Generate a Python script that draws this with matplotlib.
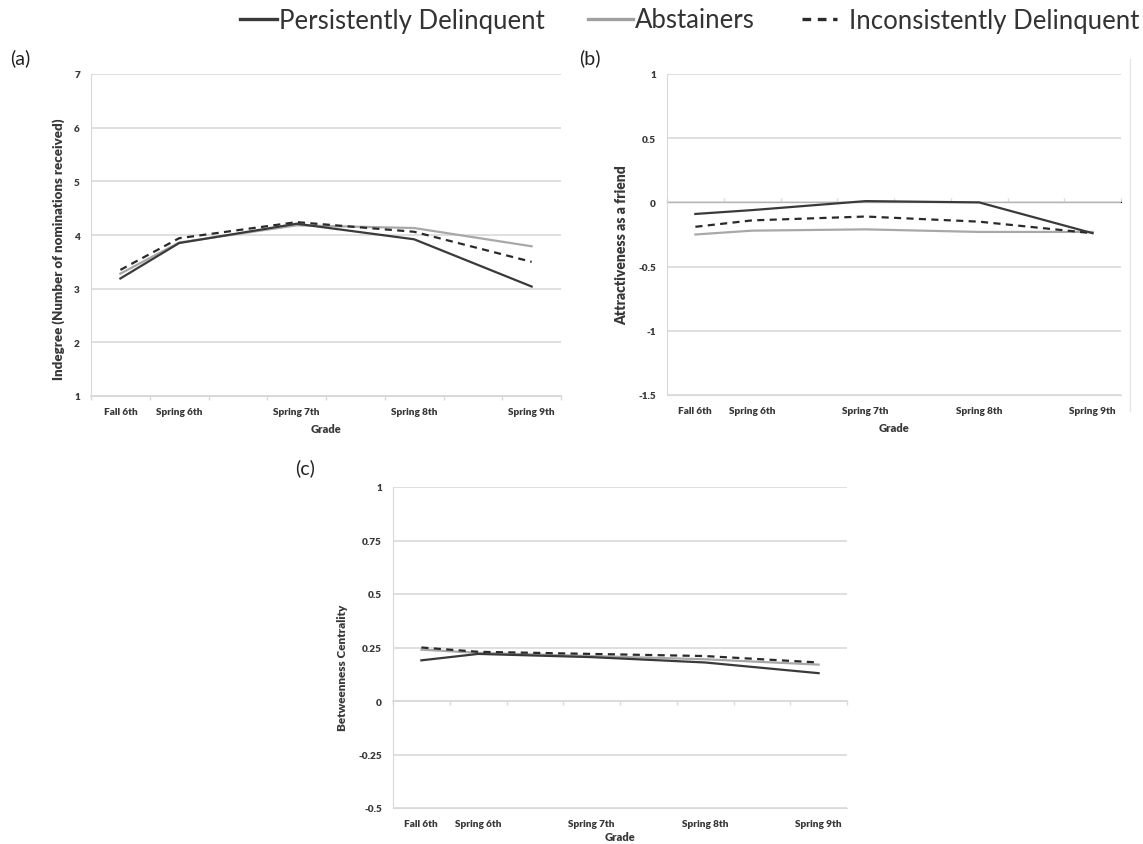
import numpy as np
import matplotlib
matplotlib.use('Agg')
import matplotlib.pyplot as plt
from matplotlib.lines import Line2D

plt.rcParams['font.family'] = ['Lato', 'DejaVu Sans']

# category axis with blank slots between the spring waves
cat_labels = ['Fall 6th', 'Spring 6th', '', 'Spring 7th', '', 'Spring 8th', '', 'Spring 9th']
wave_idx = [0, 1, 3, 5, 7]

# (a) indegree
indeg_persist = [3.19, 3.85, 4.21, 3.92, 3.04]
indeg_abst = [3.28, 3.86, 4.18, 4.13, 3.79]
indeg_incons = [3.35, 3.94, 4.24, 4.06, 3.50]

# (b) attractiveness as a friend
attr_persist = [-0.09, -0.06, 0.01, 0.00, -0.24]
attr_abst = [-0.25, -0.22, -0.21, -0.23, -0.23]
attr_incons = [-0.19, -0.14, -0.11, -0.15, -0.24]

# (c) betweenness centrality
betw_persist = [0.19, 0.22, 0.205, 0.18, 0.13]
betw_abst = [0.24, 0.225, 0.21, 0.195, 0.17]
betw_incons = [0.25, 0.23, 0.22, 0.21, 0.18]

series_names = ['Persistently Delinquent', 'Abstainers', 'Inconsistently Delinquent']

C_PERSIST = '#3a3a3a'
C_ABST = '#a8a8a8'
C_INCONS = '#2a2a2a'
GRID = '#d9d9d9'
TXT = '#383838'

W, H = 1143, 845


def px(x, y):
    # pixel position (from top left) -> figure fraction
    return x / W, 1 - y / H


def drawPanel(ax, persist, abst, incons, ylim, ystep, ylabel, ylab_pos, ysize, xpad=5):
    x = np.array(wave_idx) + 0.5
    ax.plot(x, abst, color=C_ABST, lw=1.6)
    ax.plot(x, incons, color=C_INCONS, lw=1.6, dashes=(3.2, 2.4))
    ax.plot(x, persist, color=C_PERSIST, lw=1.6)

    ax.set_xlim(0, len(cat_labels))
    ax.set_ylim(*ylim)
    yt = np.arange(ylim[0], ylim[1] + ystep / 2, ystep)
    ax.set_yticks(yt)
    ax.set_yticklabels(['{:g}'.format(round(v, 2)) for v in yt])
    ax.yaxis.grid(True, color=GRID, lw=1.2)
    ax.set_axisbelow(True)

    ax.set_xticks(np.arange(len(cat_labels)) + 0.5)
    ax.set_xticklabels(cat_labels)
    ax.tick_params(axis='x', length=0, pad=8, labelsize=7.2, labelcolor=TXT)
    ax.tick_params(axis='y', length=0, pad=8, labelsize=7.2, labelcolor=TXT)
    for lab in ax.get_xticklabels() + ax.get_yticklabels():
        lab.set_fontweight('heavy')

    for s in ['top', 'right']:
        ax.spines[s].set_visible(False)
    ax.spines['left'].set_color(GRID)
    ax.spines['bottom'].set_color(GRID)

    # horizontal axis line (with tick marks) crosses at y = 0 or at the bottom
    cross = max(ylim[0], 0)
    frac = (cross - ylim[0]) / (ylim[1] - ylim[0])
    sec = ax.secondary_xaxis(frac)
    sec.set_xticks(np.arange(len(cat_labels) + 1))
    sec.set_xticklabels([])
    sec.tick_params(length=3, color=GRID, width=1)
    sec.spines['bottom'].set_color(GRID)
    sec.spines['bottom'].set_linewidth(1.2)

    ax.set_xlabel('Grade', fontsize=8, fontweight='heavy', color=TXT, labelpad=xpad)
    ax.set_ylabel(ylabel, fontsize=ysize, fontweight='heavy', color=TXT)
    ax.yaxis.set_label_coords(*ylab_pos)


def addAxes(left, top, right, bottom):
    x0, y0 = px(left, bottom)
    x1, y1 = px(right, top)
    return fig.add_axes([x0, y0, x1 - x0, y1 - y0])


fig = plt.figure(figsize=(W / 100, H / 100), dpi=100)

ax_a = addAxes(91, 75, 561, 397)
drawPanel(ax_a, indeg_persist, indeg_abst, indeg_incons, (1, 7), 1,
          'Indegree (Number of nominations received)', (-0.055, 0.46), 9.5)

ax_b = addAxes(667, 75, 1121, 396)
drawPanel(ax_b, attr_persist, attr_abst, attr_incons, (-1.5, 1), 0.5,
          'Attractiveness as a friend', (-0.085, 0.47), 10)

ax_c = addAxes(393, 488, 847, 809)
drawPanel(ax_c, betw_persist, betw_abst, betw_incons, (-0.5, 1), 0.25,
          'Betweenness Centrality', (-0.10, 0.44), 8.5, xpad=2)

# faint border at the right of panel (b)
fig.add_artist(Line2D([1130 / W] * 2, [1 - 60 / H, 1 - 412 / H],
                      transform=fig.transFigure, color='#e6e6e6', lw=1))

for lab, (lx, ly) in zip(['(a)', '(b)', '(c)'], [(10, 58), (579, 58), (295, 468)]):
    fig.text(*px(lx, ly), lab, fontsize=14, va='center', ha='left', color='#222222')

# legend across the top
styles = [dict(color=C_PERSIST), dict(color='#a0a0a0'), dict(color=C_INCONS, dashes=(2.6, 2.0))]
spans = [(240, 277, 279), (588, 633, 635), (802, 837, 849)]
ly = 20
for name, st, (l0, l1, tx) in zip(series_names, styles, spans):
    fig.add_artist(Line2D([l0 / W, l1 / W], [1 - ly / H] * 2, transform=fig.transFigure,
                          lw=2.4, **st))
    fig.text(*px(tx, ly + 1), name, fontsize=18.5, va='center', ha='left', color='#333333')

fig.savefig('out.png', dpi=100)
